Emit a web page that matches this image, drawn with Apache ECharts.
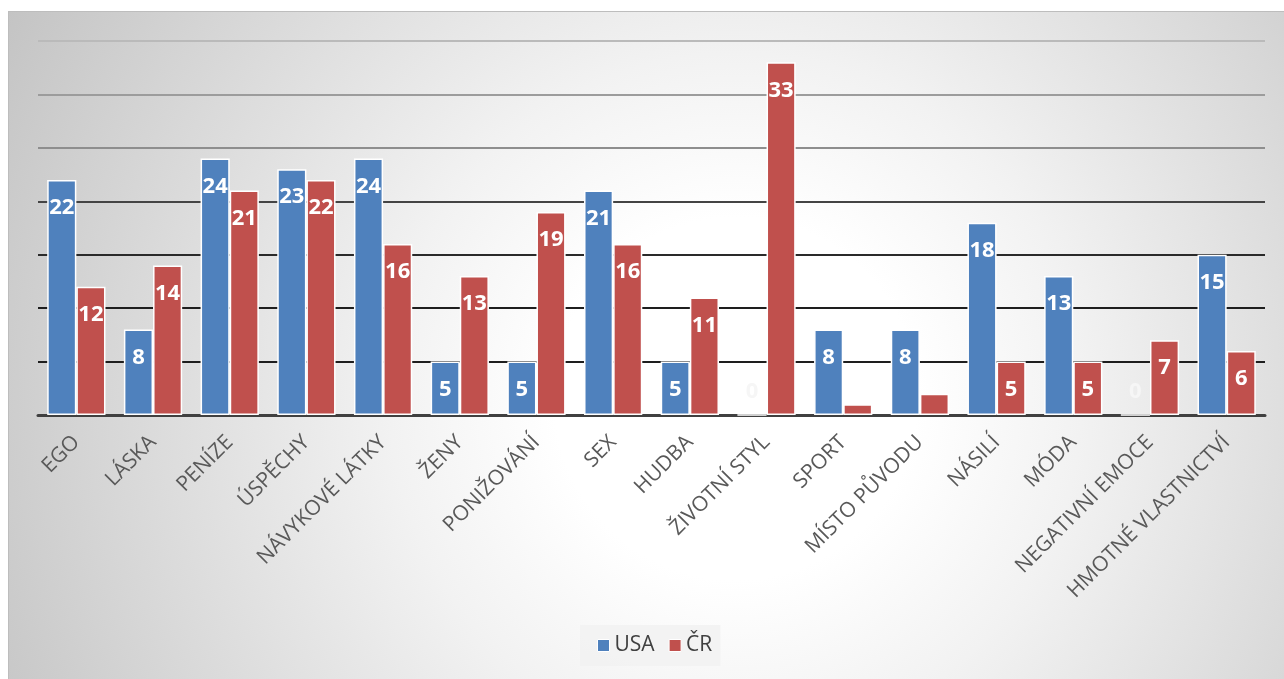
<!DOCTYPE html>
<html>
<head>
<meta charset="utf-8">
<script src="https://cdn.jsdelivr.net/npm/echarts@6/dist/echarts.min.js"></script>
<style>
html,body{margin:0;padding:0;background:#fff;width:1284px;height:679px;overflow:hidden;}
#bg{position:absolute;left:8px;top:11px;width:1276px;height:668px;
background:radial-gradient(circle farthest-corner at 57% 58%, #ffffff 0%, #ffffff 22%, #f2f2f2 42%, #c4c4c4 100%);
border-top:1px solid #bdbdbd;border-left:1px solid #bdbdbd;box-sizing:border-box;}
#chart{position:absolute;left:0;top:0;width:1284px;height:679px;}
</style>
</head>
<body>
<div id="bg"></div>
<div id="chart"></div>
<script>
var categories = ['EGO','LÁSKA','PENÍZE','ÚSPĚCHY','NÁVYKOVÉ LÁTKY','ŽENY','PONIŽOVÁNÍ','SEX','HUDBA','ŽIVOTNÍ STYL','SPORT','MÍSTO PŮVODU','NÁSILÍ','MÓDA','NEGATIVNÍ EMOCE','HMOTNÉ VLASTNICTVÍ'];
var usaValues = [22,8,24,23,24,5,5,21,5,0,8,8,18,13,0,15];
var crValues = [12,14,21,22,16,13,19,16,11,33,1,2,5,5,7,6];
var seriesNames = ['USA','ČR'];

function buildData(vals){
  return vals.map(function(v){
    if(v===0){
      return {value:v,label:{position:'top',distance:12,color:'#f6f6f6'}};
    }
    if(v<3){
      return {value:v,label:{show:false}};
    }
    return v;
  });
}

var labelCfg = {show:true,position:'insideTop',distance:17,color:'#ffffff',fontFamily:'Open Sans',fontWeight:'bold',fontSize:22};

var chart = echarts.init(document.getElementById('chart'),null,{renderer:'canvas'});
chart.setOption({
  backgroundColor:'transparent',
  animation:false,
  grid:{left:38,right:19,top:41,bottom:264,containLabel:false},
  legend:{
    data:seriesNames,
    left:580,top:625,
    backgroundColor:'rgba(242,242,242,0.9)',
    padding:[10,8,10,17],
    itemWidth:12,itemHeight:12,itemGap:14,
    icon:'rect',
    itemStyle:{borderColor:'#ffffff',borderWidth:1},
    textStyle:{fontFamily:'Open Sans',fontSize:21,color:'#404040'}
  },
  xAxis:{
    type:'category',
    data:categories,
    axisLine:{show:true,lineStyle:{color:'#404040',width:3}},
    axisTick:{show:false},
    axisLabel:{rotate:45,interval:0,margin:24,fontFamily:'Open Sans',fontSize:21,color:'#595959'}
  },
  yAxis:{
    type:'value',min:0,max:35,interval:5,
    axisLabel:{show:false},
    axisLine:{show:false},axisTick:{show:false},
    splitLine:{show:true,lineStyle:{width:2,color:['#404040','#1e1e1e','#1e1e1e','#2a2a2a','#444444','#8e8e8e','#9c9c9c','#bababa']}}
  },
  series:[
    {name:'USA',type:'bar',data:buildData(usaValues),barGap:'0%',barCategoryGap:'24%',
     itemStyle:{color:'#4f81bd',borderColor:'#ffffff',borderWidth:1.5},label:labelCfg},
    {name:'ČR',type:'bar',data:buildData(crValues),barGap:'0%',barCategoryGap:'24%',
     itemStyle:{color:'#c0504d',borderColor:'#ffffff',borderWidth:1.5},label:labelCfg}
  ]
});
</script>
</body>
</html>
